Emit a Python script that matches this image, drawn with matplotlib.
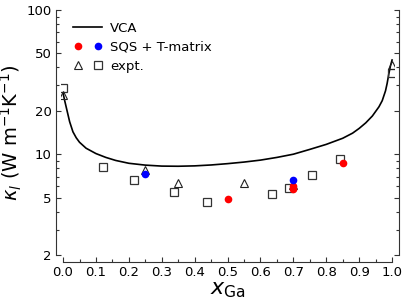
import matplotlib
matplotlib.use("Agg")
import matplotlib.pyplot as plt
from matplotlib.legend_handler import HandlerTuple
from matplotlib.ticker import FixedLocator, NullFormatter, FixedFormatter

# VCA curve
vca_x = [0.0, 0.005, 0.01, 0.02, 0.03, 0.04, 0.05, 0.07, 0.1, 0.13, 0.16, 0.2, 0.25, 0.3,
         0.35, 0.4, 0.45, 0.5, 0.55, 0.6, 0.65, 0.7, 0.75, 0.8, 0.85, 0.88, 0.9, 0.92,
         0.94, 0.96, 0.97, 0.98, 0.985, 0.99, 0.995, 1.0]
vca_y = [26.5, 23.5, 21.0, 16.8, 14.3, 13.0, 12.1, 11.0, 10.1, 9.5, 9.05, 8.65, 8.4, 8.27,
         8.25, 8.3, 8.42, 8.6, 8.82, 9.1, 9.5, 10.0, 10.8, 11.7, 12.9, 14.0, 15.1, 16.5,
         18.4, 21.3, 23.5, 27.5, 31.0, 36.0, 41.0, 45.0]

# SQS + T-matrix
red_x = [0.5, 0.7, 0.7, 0.85]
red_y = [4.87, 6.05, 5.75, 8.75]
blue_x = [0.25, 0.7]
blue_y = [7.26, 6.6]

# experiments
tri_x = [0.0, 0.25, 0.35, 0.55, 0.7, 1.0]
tri_y = [25.9, 7.74, 6.35, 6.35, 6.15, 41.5]
sq_x = [0.0, 0.12, 0.217, 0.337, 0.438, 0.636, 0.687, 0.758, 0.842, 0.999]
sq_y = [28.6, 8.09, 6.67, 5.44, 4.64, 5.3, 5.83, 7.14, 9.22, 36.7]

xtick_vals = [0.0, 0.1, 0.2, 0.3, 0.4, 0.5, 0.6, 0.7, 0.8, 0.9, 1.0]
xtick_labels = ["0.0", "0.1", "0.2", "0.3", "0.4", "0.5", "0.6", "0.7", "0.8", "0.9", "1.0"]
ytick_vals = [2, 5, 10, 20, 50, 100]
ytick_labels = ["2", "5", "10", "20", "50", "100"]

fig = plt.figure(figsize=(4.07, 3.04), dpi=100)
ax = fig.add_axes([0.1509, 0.1612, 0.8165, 0.8059])

line, = ax.plot(vca_x, vca_y, color="black", lw=1.2, zorder=2)
sq, = ax.plot(sq_x, sq_y, ls="none", marker="s", ms=5.5, mfc="none", mec="#333333", mew=0.9, zorder=3)
tri, = ax.plot(tri_x, tri_y, ls="none", marker="^", ms=5.5, mfc="none", mec="#222222", mew=0.8, zorder=3)
red, = ax.plot(red_x, red_y, ls="none", marker="o", ms=5.5, color="#ff0000", mec="none", zorder=4)
blue, = ax.plot(blue_x, blue_y, ls="none", marker="o", ms=5.5, color="#0000ff", mec="none", zorder=4)

ax.set_yscale("log")
ax.set_xlim(-0.005, 1.005)
ax.set_ylim(2, 100)

ax.xaxis.set_major_locator(FixedLocator(xtick_vals))
ax.xaxis.set_major_formatter(FixedFormatter(xtick_labels))
ax.xaxis.set_minor_locator(FixedLocator([0.05 + 0.1 * i for i in range(10)]))
ax.yaxis.set_major_locator(FixedLocator(ytick_vals))
ax.yaxis.set_major_formatter(FixedFormatter(ytick_labels))
ax.yaxis.set_minor_locator(FixedLocator([3, 4, 6, 7, 8, 9, 30, 40, 60, 70, 80, 90]))
ax.yaxis.set_minor_formatter(NullFormatter())

ax.tick_params(which="both", direction="in", left=True, right=True, top=False, bottom=True,
               labelsize=9.5, width=0.8, color="#333333", pad=3)
ax.tick_params(which="major", length=3.5)
ax.tick_params(which="minor", length=2.2)

for s in ["left", "right"]:
    ax.spines[s].set_position(("outward", 4))
    ax.spines[s].set_bounds(2, 100)
    ax.spines[s].set_linewidth(0.8)
    ax.spines[s].set_color("#333333")
ax.spines["bottom"].set_position(("outward", 5))
ax.spines["bottom"].set_bounds(0, 1)
ax.spines["bottom"].set_linewidth(0.8)
ax.spines["bottom"].set_color("#333333")
ax.spines["top"].set_visible(False)

ax.set_ylabel(r"$\kappa_l$ (W m$^{-1}$K$^{-1}$)", fontsize=14, labelpad=2)
ax.set_xlabel(r"$x_{\rm Ga}$", fontsize=16, labelpad=0.5)

ax.legend([line, (red, blue), (tri, sq)], ["VCA", "SQS + T-matrix", "expt."],
          handler_map={tuple: HandlerTuple(ndivide=None, pad=0.8)},
          loc="upper left", bbox_to_anchor=(0.0, 1.0), frameon=False,
          fontsize=9.5, handlelength=2.2, handletextpad=0.6, labelspacing=0.45)

fig.savefig("out.png", dpi=100)
